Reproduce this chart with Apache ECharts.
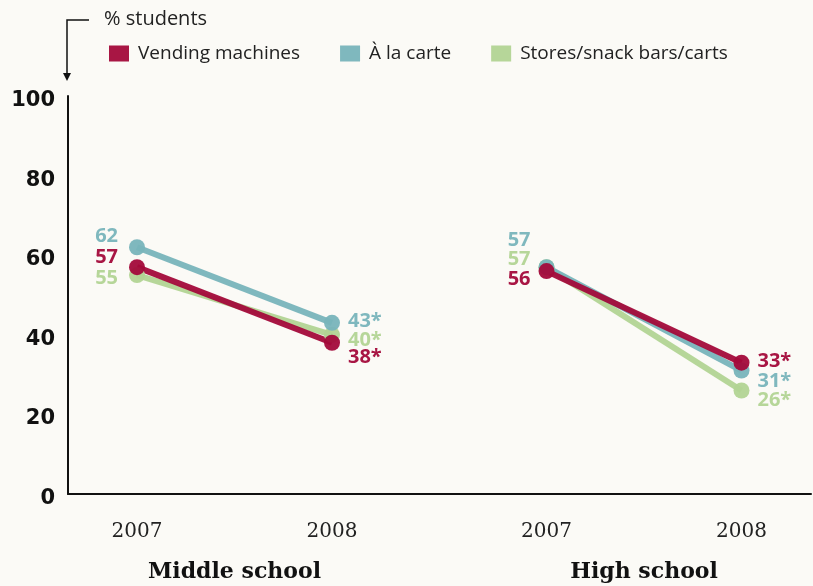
<!DOCTYPE html>
<html>
<head>
<meta charset="utf-8">
<script src="https://cdn.jsdelivr.net/npm/echarts@6/dist/echarts.min.js"></script>
<style>
  html,body{margin:0;padding:0;background:#fbfaf6;}
  #main{width:813px;height:586px;}
</style>
</head>
<body>
<div id="main"></div>
<script>
// data
var years = ["2007", "2008"];
var groups = ["Middle school", "High school"];
// x position of each year along the axis (middle school, then high school)
var xMiddle = [1, 2];
var xHigh = [3.1, 4.1];
var seriesNames = ["Vending machines", "À la carte", "Stores/snack bars/carts"];
var vendingMiddle = [57, 38];
var vendingHigh = [56, 33];
var carteMiddle = [62, 43];
var carteHigh = [57, 31];
var storesMiddle = [55, 40];
var storesHigh = [57, 26];
var yTicks = [0, 20, 40, 60, 80, 100];

var colors = {
  "Vending machines": "#a30a3a",
  "À la carte": "#78b4bb",
  "Stores/snack bars/carts": "#b2d494"
};

// vertical label nudges [group][year] so the numbers stack beside the points
var labelShift = {
  "Vending machines": [[-10, 15], [8, -1]],
  "À la carte": [[-11, -2], [-27, 11]],
  "Stores/snack bars/carts": [[3, 5], [-8, 10]]
};

function makeSeries(name, xs, vals, groupIdx){
  var shift = labelShift[name][groupIdx];
  return {
    name: name,
    type: 'line',
    symbol: 'circle',
    symbolSize: 16,
    color: colors[name],
    lineStyle: {width: 6, color: colors[name], opacity: 0.95},
    itemStyle: {color: colors[name], opacity: 0.95},
    emphasis: {disabled: true},
    animation: false,
    data: vals.map(function(v, i){
      var left = i === 0;
      var dx = (left && groupIdx === 0) ? -3 : 0;
      return {
        value: [xs[i], v],
        label: {
          show: true,
          position: left ? 'left' : 'right',
          distance: 8,
          offset: [dx, shift[i]],
          formatter: v + (i === 1 ? '*' : ''),
          color: colors[name],
          fontFamily: 'Open Sans',
          fontWeight: 'bold',
          fontSize: 20
        }
      };
    })
  };
}

var chart = echarts.init(document.getElementById('main'));

var series = [];
// draw order: stores, carte, vending on top
[["Stores/snack bars/carts", storesMiddle, storesHigh],
 ["À la carte", carteMiddle, carteHigh],
 ["Vending machines", vendingMiddle, vendingHigh]].forEach(function(s){
  series.push(makeSeries(s[0], xMiddle, s[1], 0));
  series.push(makeSeries(s[0], xHigh, s[2], 1));
});

var yearPos = xMiddle.concat(xHigh);
var groupPos = [(xMiddle[0] + xMiddle[1]) / 2, (xHigh[0] + xHigh[1]) / 2];

var option = {
  backgroundColor: '#fbfaf6',
  animation: false,
  legend: {
    data: seriesNames,
    left: 104,
    top: 39,
    icon: 'rect',
    itemWidth: 20,
    itemHeight: 16,
    itemGap: 40,
    selectedMode: false,
    textStyle: {
      fontFamily: 'Open Sans',
      fontSize: 19,
      color: '#222',
      padding: [0, 0, 0, 4]
    }
  },
  grid: {left: 68, right: 2, top: 96, bottom: 92, containLabel: false},
  xAxis: [{
    type: 'value',
    min: 1 - 69 / 195,
    max: 1 + 674 / 195,
    splitLine: {show: false},
    axisTick: {show: false},
    axisLine: {show: true, onZero: false, lineStyle: {color: '#111', width: 2}},
    axisLabel: {
      customValues: yearPos,
      formatter: function(v){
        var i = yearPos.indexOf(v);
        return i < 0 ? '' : years[i % 2];
      },
      margin: 28,
      fontFamily: 'DejaVu Serif',
      fontSize: 20,
      color: '#222'
    }
  }, {
    type: 'value',
    position: 'bottom',
    min: 1 - 69 / 195,
    max: 1 + 674 / 195,
    splitLine: {show: false},
    axisTick: {show: false},
    axisLine: {show: false},
    axisLabel: {
      customValues: groupPos,
      formatter: function(v){
        var i = groupPos.indexOf(v);
        return i < 0 ? '' : groups[i];
      },
      margin: 67,
      fontFamily: 'DejaVu Serif',
      fontWeight: 'bold',
      fontSize: 22,
      color: '#111'
    }
  }],
  yAxis: {
    type: 'value',
    min: 0,
    max: 100,
    interval: 20,
    splitLine: {show: false},
    axisTick: {show: false},
    axisLine: {show: true, lineStyle: {color: '#111', width: 2}},
    axisLabel: {
      customValues: yTicks,
      margin: 13,
      formatter: '{n|{value}}',
      rich: {
        n: {
          padding: [9, 0, 0, 0],
          fontFamily: 'DejaVu Sans',
          fontWeight: 'bold',
          fontSize: 21,
          color: '#111'
        }
      }
    }
  },
  graphic: [
    {type: 'text', left: 104, top: 9, style: {text: '% students', font: '20px "Open Sans"', fill: '#222'}},
    {type: 'polyline', shape: {points: [[89, 20], [67, 20], [67, 74]]}, style: {stroke: '#111', lineWidth: 1.5, fill: null}},
    {type: 'polygon', shape: {points: [[63, 73], [71, 73], [67, 81]]}, style: {fill: '#111'}}
  ],
  series: series
};

chart.setOption(option);
</script>
</body>
</html>
